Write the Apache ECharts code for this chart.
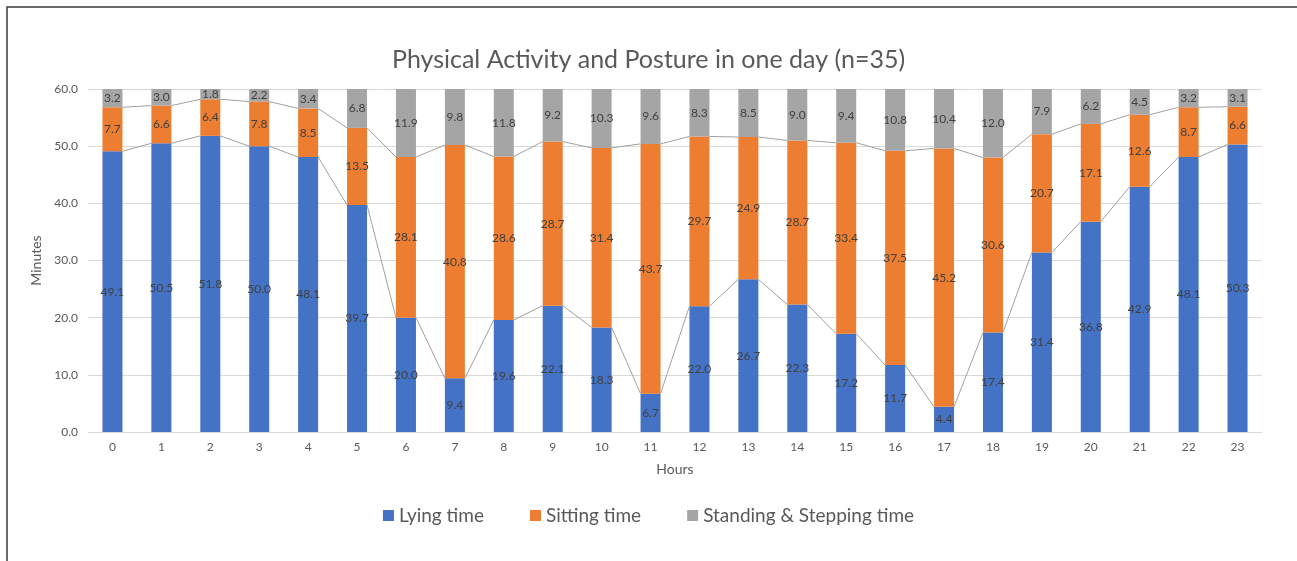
<!DOCTYPE html>
<html>
<head>
<meta charset="utf-8">
<script src="https://cdn.jsdelivr.net/npm/echarts@6/dist/echarts.min.js"></script>
<style>
  html, body { margin: 0; padding: 0; background: #fff; }
  #chart { width: 1297px; height: 561px; }
</style>
</head>
<body>
<div id="chart"></div>
<script>
var hours = ['0', '1', '2', '3', '4', '5', '6', '7', '8', '9', '10', '11',
    '12', '13', '14', '15', '16', '17', '18', '19', '20', '21', '22', '23'];
var lying = [49.1, 50.5, 51.8, 50.0, 48.1, 39.7, 20.0, 9.4, 19.6, 22.1, 18.3, 6.7,
    22.0, 26.7, 22.3, 17.2, 11.7, 4.4, 17.4, 31.4, 36.8, 42.9, 48.1, 50.3];
var sitting = [7.7, 6.6, 6.4, 7.8, 8.5, 13.5, 28.1, 40.8, 28.6, 28.7, 31.4, 43.7,
    29.7, 24.9, 28.7, 33.4, 37.5, 45.2, 30.6, 20.7, 17.1, 12.6, 8.7, 6.6];
var standing = [3.2, 3.0, 1.8, 2.2, 3.4, 6.8, 11.9, 9.8, 11.8, 9.2, 10.3, 9.6,
    8.3, 8.5, 9.0, 9.4, 10.8, 10.4, 12.0, 7.9, 6.2, 4.5, 3.2, 3.1];

var BAR_W = 20;
var FONT = 'Lato, "Open Sans", sans-serif';

// Excel-style series lines: join the top of each stack segment to the next bar
function seriesLineData(tops) {
    var out = [];
    for (var i = 0; i < tops.length - 1; i++) {
        out.push([i, tops[i], tops[i + 1]]);
    }
    return out;
}
var lyingTop = lying.slice();
var sittingTop = lying.map(function (v, i) { return +(v + sitting[i]).toFixed(1); });

function renderSeriesLine(params, api) {
    var a = api.coord([api.value(0), api.value(1)]);
    var b = api.coord([api.value(0) + 1, api.value(2)]);
    return {
        type: 'line',
        shape: { x1: a[0] + BAR_W / 2, y1: a[1], x2: b[0] - BAR_W / 2, y2: b[1] },
        style: { stroke: '#a0a0a0', lineWidth: 1 }
    };
}

function barSeries(name, data, color) {
    return {
        name: name,
        type: 'bar',
        stack: 'total',
        barWidth: BAR_W,
        data: data,
        itemStyle: { color: color },
        label: {
            show: true,
            position: 'inside',
            color: '#404040',
            fontFamily: FONT,
            fontSize: 12,
            formatter: function (p) { return p.value.toFixed(1); }
        }
    };
}

var myChart = echarts.init(document.getElementById('chart'));
myChart.setOption({
    animation: false,
    title: {
        text: 'Physical Activity and Posture in one day (n=35)',
        left: 'center',
        top: 42,
        textStyle: { color: '#595959', fontSize: 25, fontWeight: 'normal', fontFamily: FONT }
    },
    graphic: [{
        type: 'polyline',
        shape: { points: [[7, 561], [7, 7], [1297, 7]] },
        style: { stroke: '#3a3a3a', lineWidth: 1.5, fill: null }
    }],
    legend: {
        data: ['Lying time', 'Sitting time', 'Standing & Stepping time'],
        left: 'center',
        top: 501,
        itemWidth: 11,
        itemHeight: 11,
        itemGap: 46,
        icon: 'rect',
        textStyle: { color: '#595959', fontSize: 19, fontFamily: FONT }
    },
    grid: { left: 88, right: 35, top: 89, bottom: 129 },
    xAxis: {
        type: 'category',
        data: hours,
        name: 'Hours',
        nameLocation: 'middle',
        nameGap: 30,
        nameTextStyle: { color: '#595959', fontSize: 14, fontFamily: FONT },
        axisLine: { lineStyle: { color: '#d9d9d9' } },
        axisTick: { show: false },
        axisLabel: { color: '#595959', fontSize: 12, fontFamily: FONT, margin: 9 }
    },
    yAxis: {
        type: 'value',
        min: 0,
        max: 60,
        interval: 10,
        name: 'Minutes',
        nameLocation: 'middle',
        nameGap: 44,
        nameTextStyle: { color: '#595959', fontSize: 14, fontFamily: FONT },
        axisLine: { show: false },
        axisTick: { show: false },
        splitLine: { lineStyle: { color: '#d9d9d9' } },
        axisLabel: {
            color: '#595959', fontSize: 12, fontFamily: FONT, margin: 10,
            formatter: function (v) { return v.toFixed(1); }
        }
    },
    series: [
        barSeries('Lying time', lying, '#4472c4'),
        barSeries('Sitting time', sitting, '#ed7d31'),
        barSeries('Standing & Stepping time', standing, '#a5a5a5'),
        {
            type: 'custom',
            silent: true,
            renderItem: renderSeriesLine,
            data: seriesLineData(lyingTop),
            z: 3
        },
        {
            type: 'custom',
            silent: true,
            renderItem: renderSeriesLine,
            data: seriesLineData(sittingTop),
            z: 3
        }
    ]
});
</script>
</body>
</html>
